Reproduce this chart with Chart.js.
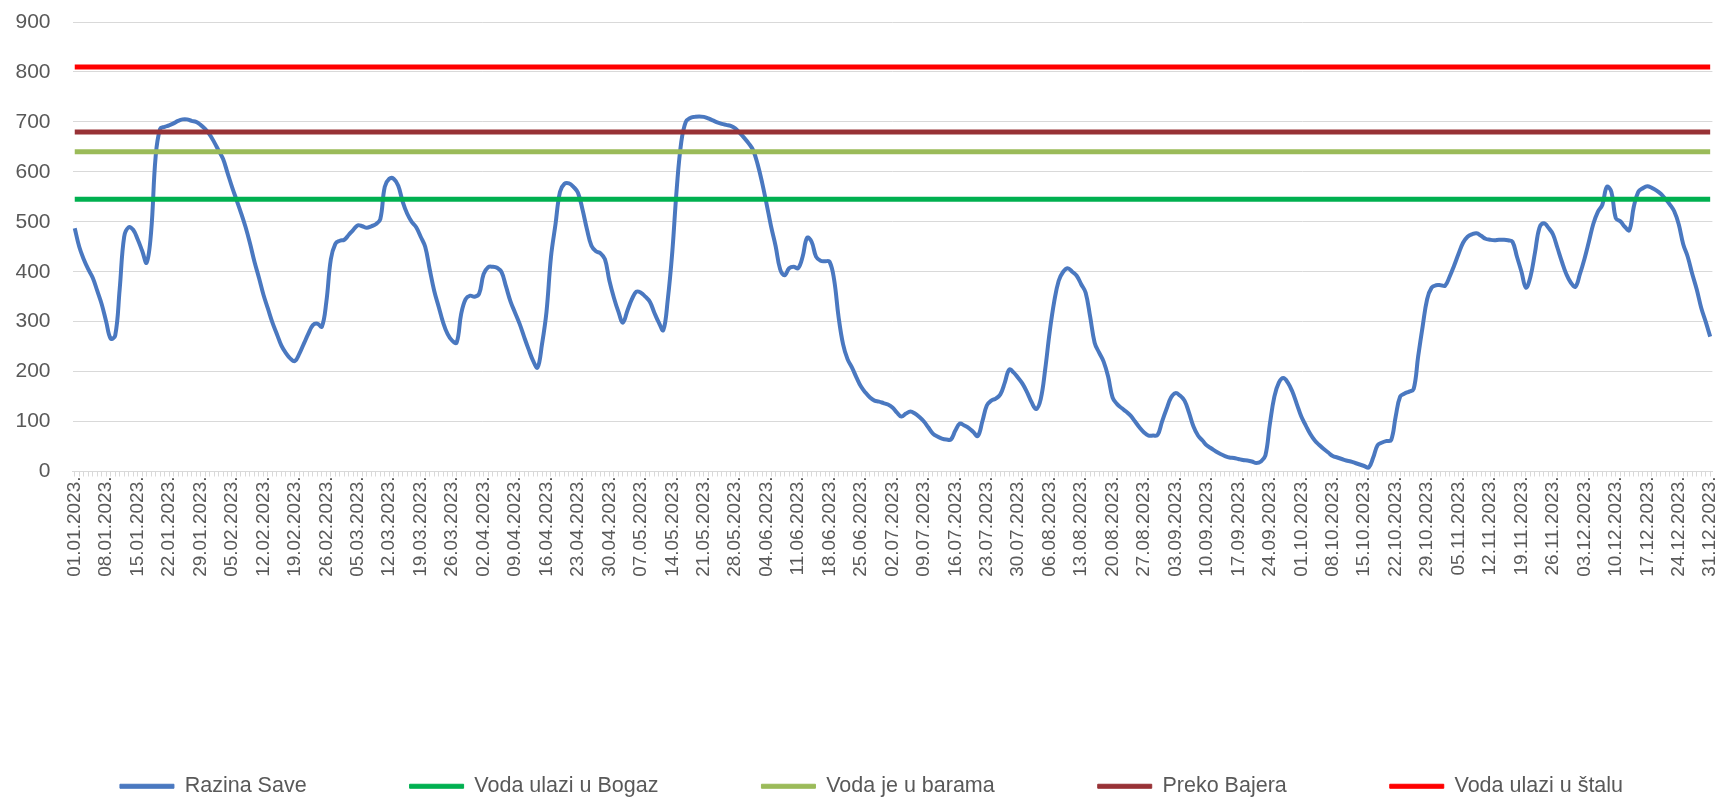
<!DOCTYPE html>
<html>
<head>
<meta charset="utf-8">
<script src="https://cdn.jsdelivr.net/npm/chart.js@4/dist/chart.umd.min.js"></script>
<style>
  html, body { margin: 0; padding: 0; background: #ffffff; }
  #wrap { width: 1733px; height: 797px; position: relative; }
</style>
</head>
<body>
<div id="wrap"><canvas id="c"></canvas></div>
<script>
// ---- data ----
const year = 2023;
const dayCount = 365;
const categories = [];
for (let i = 0; i < dayCount; i++) {
  const d = new Date(Date.UTC(year, 0, 1 + i));
  const dd = String(d.getUTCDate()).padStart(2, '0');
  const mm = String(d.getUTCMonth() + 1).padStart(2, '0');
  categories.push(dd + '.' + mm + '.' + d.getUTCFullYear() + '.');
}
const labelEvery = 7;

const razinaSave = [
  487,450,425,405,388,362,335,300,266,272,
  365,470,489,484,465,442,418,480,630,686,
  690,693,697,702,705,705,702,700,694,686,
  675,660,643,626,598,570,544,518,490,457,
  420,388,354,326,298,275,252,237,226,221,
  236,256,276,293,296,290,340,425,456,462,
  464,474,484,493,491,488,491,495,505,570,
  586,586,572,540,516,500,489,470,450,405,
  362,330,298,275,262,258,315,345,352,350,
  356,395,409,410,408,399,370,340,318,296,
  270,245,222,208,255,320,430,495,560,576,
  577,570,558,525,485,452,441,437,425,382,
  348,320,298,322,345,360,358,350,340,318,
  298,283,345,440,568,660,700,708,710,711,
  710,707,703,699,696,694,692,687,678,668,
  657,643,615,578,535,490,451,405,393,407,
  410,407,430,468,460,430,422,421,420,385,
  310,255,225,208,188,170,158,148,142,140,
  137,134,128,118,110,116,120,116,109,100,
  88,76,70,66,64,64,82,96,92,87,
  79,71,100,132,142,146,154,178,204,198,
  187,175,158,138,125,145,205,280,340,382,
  400,407,400,392,375,358,310,258,238,220,
  190,148,135,127,120,112,100,88,78,72,
  72,73,100,125,148,157,152,142,118,90,
  72,62,52,46,40,35,31,28,27,25,
  23,22,20,17,20,32,95,150,178,187,
  178,160,135,110,92,75,62,53,45,38,
  31,28,25,22,20,17,14,11,8,28,
  53,58,61,63,110,150,156,160,165,230,
  290,345,368,373,373,372,390,412,436,458,
  470,475,477,472,466,464,463,464,464,463,
  460,430,400,368,390,438,488,497,488,475,
  448,420,395,378,370,395,425,460,496,520,
  534,570,560,507,501,490,483,530,560,567,
  571,568,563,556,546,535,521,495,455,430,
  396,365,328,300,270
];

const seriesNames = ['Razina Save', 'Voda ulazi u Bogaz', 'Voda je u barama', 'Preko Bajera', 'Voda ulazi u štalu'];
const levelBogaz = 545;
const levelBare = 640;
const levelBajer = 680;
const levelStala = 810;

const yTicks = [0, 100, 200, 300, 400, 500, 600, 700, 800, 900];

// ---- chart ----
const constant = v => categories.map(() => v);
const txt = '#595959';
const font = "'Liberation Sans', Arial, sans-serif";

const legendShift = {
  id: 'legendShift',
  afterLayout(chart) {
    if (chart.legend) { chart.legend.left += 15; chart.legend.right += 15; }
  }
};

new Chart(document.getElementById('c'), {
  type: 'line',
  data: {
    labels: categories,
    datasets: [
      { label: seriesNames[0], data: razinaSave, borderColor: '#4A78C0', backgroundColor: '#4A78C0', borderWidth: 4, tension: 0.4, pointRadius: 0, order: 5 },
      { label: seriesNames[1], data: constant(levelBogaz), borderColor: '#00B050', backgroundColor: '#00B050', borderWidth: 5, pointRadius: 0, order: 4 },
      { label: seriesNames[2], data: constant(levelBare), borderColor: '#9BBB59', backgroundColor: '#9BBB59', borderWidth: 5, pointRadius: 0, order: 3 },
      { label: seriesNames[3], data: constant(levelBajer), borderColor: '#983236', backgroundColor: '#983236', borderWidth: 5, pointRadius: 0, order: 2 },
      { label: seriesNames[4], data: constant(levelStala), borderColor: '#FF0000', backgroundColor: '#FF0000', borderWidth: 5, pointRadius: 0, order: 1 }
    ]
  },
  plugins: [legendShift],
  options: {
    responsive: true,
    maintainAspectRatio: false,
    animation: false,
    events: [],
    layout: { padding: { left: 0, right: 20, top: 22, bottom: -10 } },
    plugins: {
      tooltip: { enabled: false },
      legend: {
        position: 'bottom',
        labels: {
          color: txt,
          font: { family: font, size: 21.5 },
          boxWidth: 54,
          boxHeight: 4,
          padding: 103,
          sort: (a, b) => a.datasetIndex - b.datasetIndex,
          generateLabels: (chart) => Chart.defaults.plugins.legend.labels.generateLabels(chart).map(l => Object.assign(l, { lineWidth: 1 }))
        }
      }
    },
    scales: {
      x: {
        offset: true,
        grid: { display: true, drawOnChartArea: false, drawTicks: true, tickLength: 5, color: '#D9D9D9', lineWidth: 1 },
        border: { display: true, color: '#D9D9D9', width: 1 },
        ticks: {
          autoSkip: false,
          minRotation: 90,
          maxRotation: 90,
          padding: 0,
          color: txt,
          font: { family: font, size: 19 },
          callback: function (value, index) { return index % labelEvery === 0 ? categories[index] : ''; }
        },
        afterFit: (scale) => { scale.height = 201; }
      },
      y: {
        min: 0,
        max: 900,
        afterBuildTicks: (scale) => { scale.ticks = yTicks.map(v => ({ value: v })); },
        grid: { color: '#D9D9D9', lineWidth: 1, drawTicks: true, tickLength: 22, tickColor: 'rgba(0,0,0,0)' },
        border: { display: false },
        ticks: { padding: 0, color: txt, font: { family: font, size: 21 } },
        afterFit: (scale) => { scale.width = 72.5; }
      }
    }
  }
});
</script>
</body>
</html>
